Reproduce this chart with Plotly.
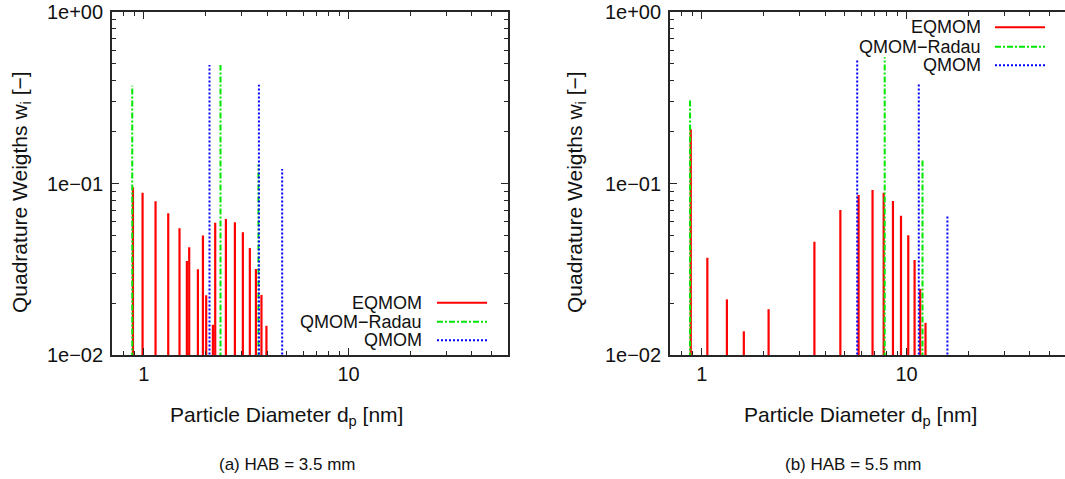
import math
import plotly.graph_objects as go

# ---------------------------------------------------------------- data
# (a) HAB = 3.5 mm : abscissas [nm] and weights of each quadrature
a_eqmom_d = [0.886, 0.987, 1.142, 1.317, 1.495, 1.624, 1.667, 1.838, 1.945, 2.018,
             2.176, 2.233, 2.518, 2.786, 3.047, 3.296, 3.528, 3.755, 3.972]
a_eqmom_w = [0.095, 0.0884, 0.0788, 0.067, 0.0548, 0.0353, 0.0425, 0.0316, 0.0497, 0.0223,
             0.015, 0.059, 0.062, 0.0594, 0.052, 0.042, 0.0317, 0.0224, 0.0148]
a_radau_d = [0.879, 2.37, 3.63]
a_radau_w = [0.372, 0.491, 0.129]
a_qmom_d = [2.094, 3.65, 4.74]
a_qmom_w = [0.491, 0.377, 0.1215]

# (b) HAB = 5.5 mm
b_eqmom_d = [0.884, 1.065, 1.327, 1.605, 2.12, 3.548, 4.75, 5.83, 6.82, 7.73,
             8.58, 9.39, 10.19, 10.94, 11.65, 12.37]
b_eqmom_w = [0.207, 0.0369, 0.0211, 0.01374, 0.0185, 0.0458, 0.07, 0.0857, 0.0916, 0.0884,
             0.079, 0.0649, 0.050, 0.0358, 0.0243, 0.0154]
b_radau_d = [0.877, 7.82, 11.96]
b_radau_w = [0.307, 0.544, 0.138]
b_qmom_d = [5.74, 11.47, 15.82]
b_qmom_w = [0.53, 0.384, 0.0646]

series_names = ["EQMOM", "QMOM−Radau", "QMOM"]
x_tick_vals = [1, 10]
x_tick_text = ["1", "10"]
y_tick_vals = [1, 0.1, 0.01]
y_tick_text = ["1e+00", "1e−01", "1e−02"]
x_minor = [0.8, 0.9, 2, 3, 4, 5, 6, 7, 8, 9, 20, 30, 40, 50, 60]
y_minor = [0.02, 0.03, 0.04, 0.05, 0.06, 0.07, 0.08, 0.09,
           0.2, 0.3, 0.4, 0.5, 0.6, 0.7, 0.8, 0.9]
captions = ["(a) HAB = 3.5 mm", "(b) HAB = 5.5 mm"]

# ---------------------------------------------------------------- style
W, H = 1065, 479
FONT = "Liberation Sans, Arial, Helvetica, sans-serif"
TXT = "#111"
FLOOR = 1e-3  # impulses start below the axis floor and get clipped
styles = [
    dict(color="#ff0000", width=2.2, dash="solid"),
    dict(color="#00e600", width=2, dash="6px,2px,2px,2px"),
    dict(color="#0000ff", width=2, dash="2px,2px"),
]


def impulses(d, w):
    xs, ys = [], []
    for xi, yi in zip(d, w):
        xs += [xi, xi, None]
        ys += [FLOOR, yi, None]
    return xs, ys


def px(x):
    return x / W


def py(y):
    return 1 - y / H


fig = go.Figure()

panels = [
    ([(a_eqmom_d, a_eqmom_w), (a_radau_d, a_radau_w), (a_qmom_d, a_qmom_w)], "x", "y"),
    ([(b_eqmom_d, b_eqmom_w), (b_radau_d, b_radau_w), (b_qmom_d, b_qmom_w)], "x2", "y2"),
]
for sets, xa, ya in panels:
    for (d, w), name, st in zip(sets, series_names, styles):
        xs, ys = impulses(d, w)
        fig.add_trace(go.Scatter(x=xs, y=ys, mode="lines", name=name, xaxis=xa, yaxis=ya,
                                 line=st, showlegend=False, hoverinfo="skip"))

# plot frames in pixels
left_frame = (112, 508)
right_frame = (670, 1065)
top_px, bot_px = 12, 355
XMIN, XMAX = 0.7, 60.0
decade_px = (left_frame[1] - left_frame[0]) / (math.log10(XMAX) - math.log10(XMIN))
right_xmax_log = math.log10(XMIN) + (right_frame[1] - right_frame[0]) / decade_px

axis_common = dict(
    type="log", showline=True, linecolor="#262626", linewidth=1.8, automargin=False,
    ticks="inside", ticklen=7, tickcolor="#262626", tickwidth=1,
    showgrid=False, zeroline=False,
    tickfont=dict(family=FONT, size=20, color=TXT),
)
minor_common = dict(ticks="inside", ticklen=4, tickcolor="#262626", tickwidth=1, showgrid=False)
x_extra = dict(ticklabelstandoff=0)
y_extra = dict(ticklabelstandoff=3)

ydom = [py(bot_px), py(top_px)]
fig.update_layout(
    xaxis=dict(axis_common, **x_extra, domain=[px(left_frame[0]), px(left_frame[1])],
               range=[math.log10(XMIN), math.log10(XMAX)], anchor="y", mirror="allticks",
               tickvals=x_tick_vals, ticktext=x_tick_text,
               minor=dict(minor_common, tickvals=x_minor)),
    yaxis=dict(axis_common, **y_extra, domain=ydom, range=[-2, 0], anchor="x", mirror="allticks",
               tickvals=y_tick_vals, ticktext=y_tick_text,
               minor=dict(minor_common, tickvals=y_minor)),
    xaxis2=dict(axis_common, **x_extra, domain=[px(right_frame[0]), 1.0],
                range=[math.log10(XMIN), right_xmax_log], anchor="y2", mirror="allticks",
                tickvals=x_tick_vals, ticktext=x_tick_text,
                minor=dict(minor_common, tickvals=x_minor)),
    yaxis2=dict(axis_common, **y_extra, domain=ydom, range=[-2, 0], anchor="x2", mirror=False,
                tickvals=y_tick_vals, ticktext=y_tick_text,
                minor=dict(minor_common, tickvals=y_minor)),
    width=W, height=H, margin=dict(l=0, r=0, t=0, b=0, pad=0, autoexpand=False),
    paper_bgcolor="white", plot_bgcolor="white", showlegend=False,
)

annotations = []
shapes = []
ytitle = "Quadrature Weigths w<sub>i</sub> [−]"
xtitle = "Particle Diameter d<sub>p</sub> [nm]"


def label(text, x, y, size, **kw):
    d = dict(text=text, x=px(x), y=py(y), xref="paper", yref="paper", showarrow=False,
             xanchor="center", yanchor="middle", font=dict(family=FONT, size=size, color=TXT))
    d.update(kw)
    annotations.append(d)


# (y-title x, y-title y, x-title x, caption x) for each panel
title_pos = [(21, 192, 286, 288), (576, 192, 860, 853)]
for (ytx, yty, xtx, capx), cap in zip(title_pos, captions):
    label(ytitle, ytx, yty, 21, textangle=-90)
    label(xtitle, xtx, 416, 21)
    label(cap, capx, 464, 17)

# legend keys: right-aligned labels with line samples to their right
legends = [
    (424, 437, 487, [302.7, 321.7, 340.3]),
    (983, 995, 1045, [27.3, 46.7, 65.3]),
]
for tx, sx0, sx1, rows in legends:
    for name, st, ry in zip(series_names, styles, rows):
        label(name, tx, ry, 18, xanchor="right")
        shapes.append(dict(type="line", xref="paper", yref="paper",
                           x0=px(sx0), x1=px(sx1), y0=py(ry), y1=py(ry),
                           line=dict(color=st["color"], width=2, dash=st["dash"])))

fig.update_layout(annotations=annotations, shapes=shapes)
fig.write_html("out.html")
